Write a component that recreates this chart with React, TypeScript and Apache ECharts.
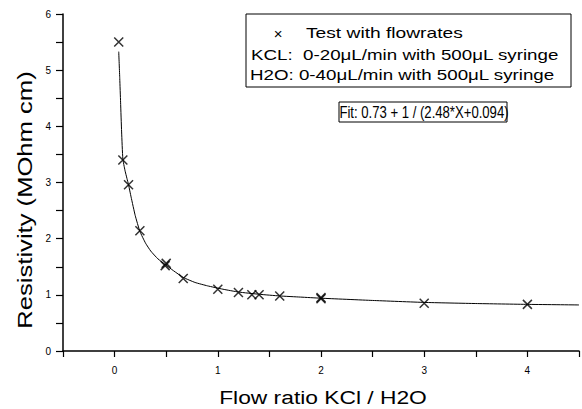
import React, { useEffect, useRef } from "react";
import * as echarts from "echarts";

const measured: [number, number][] = [
  [0.04, 5.5], [0.08, 3.4], [0.135, 2.96], [0.245, 2.14], [0.49, 1.52], [0.5, 1.56],
  [0.665, 1.29], [1.0, 1.1], [1.2, 1.04], [1.33, 1.0], [1.4, 1.0], [1.6, 0.98],
  [2.0, 0.93], [2.0, 0.95], [3.0, 0.85], [4.0, 0.83],
];

const fitCurve: [number, number][] = [
  [0.04, 5.33], [0.05, 4.85], [0.058, 4.43], [0.068, 3.9], [0.08, 3.42], [0.1, 3.22],
  [0.12, 3.07], [0.135, 2.96], [0.16, 2.74], [0.2, 2.41], [0.245, 2.13], [0.3, 1.92],
  [0.35, 1.78], [0.42, 1.64], [0.49, 1.54], [0.57, 1.43], [0.665, 1.31], [0.78, 1.22],
  [0.9, 1.16], [1.05, 1.1], [1.2, 1.05], [1.4, 1.01], [1.6, 0.98], [1.8, 0.96],
  [2.0, 0.94], [2.5, 0.9], [3.0, 0.865], [3.5, 0.845], [4.0, 0.83], [4.5, 0.82],
];

const legendLines = [
  "Test with flowrates",
  "KCL:  0-20μL/min with 500μL syringe",
  "H2O: 0-40μL/min with 500μL syringe",
];
const fitLabel = "Fit: 0.73 + 1 / (2.48*X+0.094)";
const xTitle = "Flow ratio KCl / H2O";
const yTitle = "Resistivity (MOhm cm)";

const FONT = "'Liberation Sans', Arial, sans-serif";

export default function App() {
  const ref = useRef<HTMLDivElement>(null);
  useEffect(() => {
    if (!ref.current) return;
    const chart = echarts.init(ref.current, undefined, { renderer: "svg" });
    const intLabel = (v: number) => (Math.abs(v - Math.round(v)) < 1e-9 ? String(Math.round(v)) : "");
    chart.setOption({
      animation: false,
      backgroundColor: "#fff",
      grid: { left: 63, top: 14, width: 518.5, height: 337 },
      xAxis: {
        type: "value",
        min: -0.5,
        max: 4.5,
        interval: 0.5,
        axisLine: { onZero: false, lineStyle: { color: "#000", width: 1.5 } },
        axisTick: { length: 6, lineStyle: { color: "#000", width: 1.2 } },
        axisLabel: { formatter: intLabel, color: "#000", fontFamily: "Liberation Sans", fontSize: 10, margin: 14 },
        splitLine: { show: false },
      },
      yAxis: {
        type: "value",
        min: 0,
        max: 6,
        interval: 0.5,
        axisLine: { show: true, onZero: false, lineStyle: { color: "#000", width: 1.5 } },
        axisTick: { show: true, length: 7, lineStyle: { color: "#000", width: 1.2 } },
        axisLabel: { formatter: intLabel, color: "#000", fontFamily: "Liberation Sans", fontSize: 10, margin: 12 },
        splitLine: { show: false },
      },
      series: [
        {
          type: "line",
          data: fitCurve,
          smooth: 0.15,
          symbol: "none",
          lineStyle: { color: "#000", width: 1 },
          z: 2,
        },
        {
          type: "scatter",
          data: measured,
          symbol: "path://M0,0L10,10M10,0L0,10",
          symbolSize: 9,
          itemStyle: { color: "transparent", borderColor: "#000", borderWidth: 1.5 },
          z: 3,
        },
      ],
      graphic: [
        {
          type: "rect",
          shape: { x: 246, y: 14, width: 325, height: 73 },
          style: { fill: "#fff", stroke: "#000", lineWidth: 1 },
          z: 10,
        },
        {
          type: "text",
          x: 278,
          y: 33,
          style: { text: "×", font: `15px ${FONT}`, fill: "#000", align: "center", verticalAlign: "middle" },
          z: 11,
        },
        {
          type: "text",
          x: 306,
          y: 33,
          scaleX: 1.28,
          style: { text: legendLines[0], font: `15px ${FONT}`, fill: "#000", align: "left", verticalAlign: "middle" },
          z: 11,
        },
        {
          type: "text",
          x: 251,
          y: 55,
          scaleX: 1.25,
          style: { text: legendLines[1], font: `15px ${FONT}`, fill: "#000", align: "left", verticalAlign: "middle" },
          z: 11,
        },
        {
          type: "text",
          x: 250,
          y: 75,
          scaleX: 1.25,
          style: { text: legendLines[2], font: `15px ${FONT}`, fill: "#000", align: "left", verticalAlign: "middle" },
          z: 11,
        },
        {
          type: "rect",
          shape: { x: 339, y: 102, width: 168, height: 20 },
          style: { fill: "#fff", stroke: "#000", lineWidth: 1 },
          z: 10,
        },
        {
          type: "text",
          x: 424,
          y: 112.5,
          scaleX: 0.82,
          style: { text: fitLabel, font: `16px ${FONT}`, fill: "#000", align: "center", verticalAlign: "middle" },
          z: 11,
        },
        {
          type: "text",
          x: 323,
          y: 397,
          scaleX: 1.2,
          style: { text: xTitle, font: `19px ${FONT}`, fill: "#000", align: "center", verticalAlign: "middle" },
          z: 11,
        },
        {
          type: "text",
          x: 25,
          y: 200,
          rotation: Math.PI / 2,
          scaleX: 1.28,
          style: { text: yTitle, font: `20px ${FONT}`, fill: "#000", align: "center", verticalAlign: "middle" },
          z: 11,
        },
      ],
    });
    return () => chart.dispose();
  }, []);
  return (
    <div
      ref={ref}
      style={{ position: "fixed", left: 0, top: 0, width: 582, height: 409 }}
    />
  );
}
